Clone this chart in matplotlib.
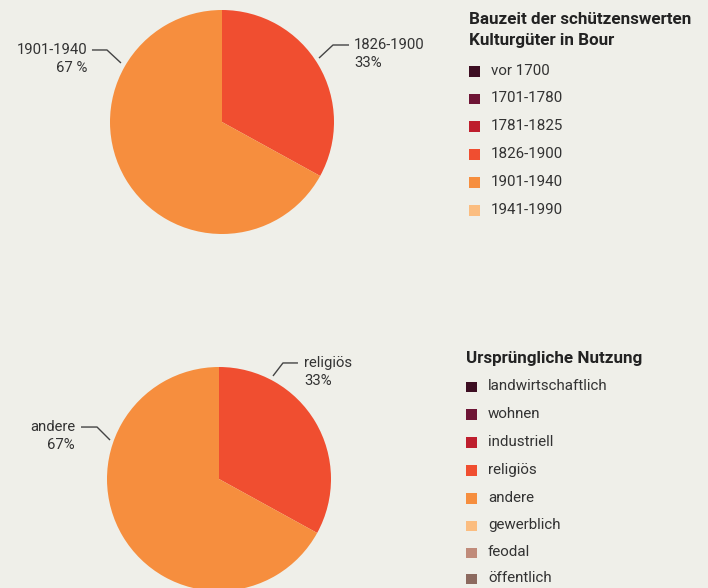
import matplotlib
matplotlib.use("Agg")
import matplotlib.pyplot as plt
from matplotlib.patches import Rectangle

# ---------------- data ----------------
era_labels = ["vor 1700", "1701-1780", "1781-1825", "1826-1900", "1901-1940", "1941-1990"]
era_values = [0, 0, 0, 33, 67, 0]
use_labels = ["landwirtschaftlich", "wohnen", "industriell", "religiös", "andere",
              "gewerblich", "feodal", "öffentlich"]
use_values = [0, 0, 0, 33, 67, 0, 0, 0]
title1 = "Bauzeit der schützenswerten\nKulturgüter in Bour"
title2 = "Ursprüngliche Nutzung"

palette = ["#3d0e22", "#6e1535", "#be1e2d", "#f04e30", "#f68e3e", "#fbbd80",
           "#c08b7a", "#8c6a5f"]

BG = "#efefe9"
TXT = "#333333"
LINE = "#444444"
plt.rcParams['font.family'] = ['Roboto', 'DejaVu Sans']

W, H = 708, 588
fig = plt.figure(figsize=(W / 100, H / 100), dpi=100, facecolor=BG)


def pie_axes(cx, cy, r):
    return fig.add_axes([(cx - r) / W, (H - cy - r) / H, 2 * r / W, 2 * r / H])


def draw_pie(ax, values, colors):
    vals = [v for v in values if v > 0]
    cols = [c for v, c in zip(values, colors) if v > 0]
    ax.pie(vals, colors=cols, startangle=90, counterclock=False, radius=1,
           wedgeprops=dict(linewidth=0))
    ax.set_xlim(-1, 1)
    ax.set_ylim(-1, 1)
    ax.set_aspect('equal')
    ax.axis('off')
    ax.set_facecolor(BG)


def callout(ax, pts, text1, text2, tx, y1, y2, ha):
    xs, ys = zip(*pts)
    ax.plot(xs, ys, color=LINE, lw=1, clip_on=False, solid_capstyle='butt')
    ax.text(tx, y1, text1, ha=ha, va='center', fontsize=10.7, color=TXT, clip_on=False)
    ax.text(tx, y2, text2, ha=ha, va='center', fontsize=10.7, color=TXT, clip_on=False)


# pie 1
ax1 = pie_axes(222, 122, 112)
draw_pie(ax1, era_values, palette)
callout(ax1, [(0.866, 0.571), (0.991, 0.6875), (1.134, 0.6875)],
        "1826-1900", f"{era_values[3]}%", 1.179, 0.6875, 0.527, 'left')
callout(ax1, [(-0.902, 0.527), (-1.027, 0.643), (-1.161, 0.643)],
        "1901-1940", f"{era_values[4]} %", -1.205, 0.643, 0.482, 'right')

# pie 2
ax2 = pie_axes(219, 479, 112)
draw_pie(ax2, use_values, palette)
callout(ax2, [(0.482, 0.920), (0.571, 1.036), (0.705, 1.036)],
        "religiös", f"{use_values[3]}%", 0.759, 1.036, 0.875, 'left')
callout(ax2, [(-0.973, 0.348), (-1.089, 0.464), (-1.232, 0.464)],
        "andere", f"{use_values[4]}%", -1.286, 0.464, 0.304, 'right')

# legends on overlay
ov = fig.add_axes([0, 0, 1, 1], facecolor='none')
ov.set_xlim(0, W)
ov.set_ylim(H, 0)
ov.axis('off')


def legend(x0, title_ys, title_lines, row_ys, labels, colors, tx):
    for y, t in zip(title_ys, title_lines):
        ov.text(x0, y, t, ha='left', va='center', fontsize=12.25, fontweight='bold', color="#222222")
    for y, lab, c in zip(row_ys, labels, colors):
        ov.add_patch(Rectangle((x0, y - 5), 10.5, 10.5, facecolor=c, edgecolor='none'))
        ov.text(tx, y, lab, ha='left', va='center', fontsize=10.9, color=TXT)


legend(469, [19, 40], title1.split("\n"), [71, 98.5, 126, 154, 182, 210],
       era_labels, palette, 491)
legend(466, [358], [title2], [386.5, 414, 442, 470, 498, 525.5, 552.5, 578.5],
       use_labels, palette, 488)

fig.savefig("out.png", dpi=100, facecolor=BG)
